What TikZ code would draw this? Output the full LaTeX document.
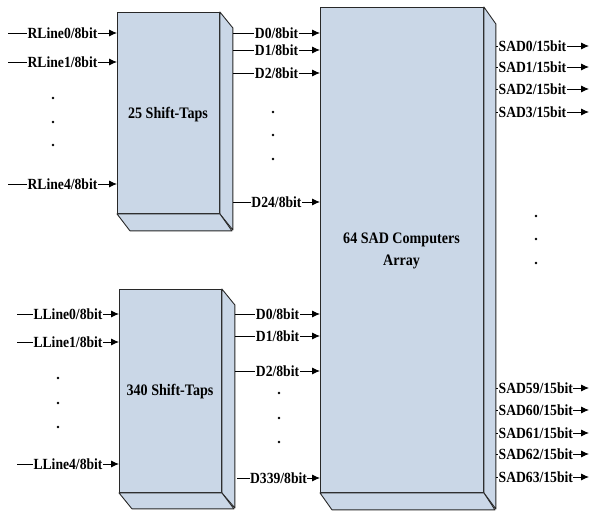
\documentclass[tikz,border=0pt]{standalone}
\usepackage{fontspec}
\setmainfont[FakeStretch=0.88]{Liberation Serif}
\usetikzlibrary{arrows.meta}
\definecolor{boxblue}{RGB}{202,215,231}
\definecolor{edge}{RGB}{40,40,40}
\tikzset{
  blockbox/.style={draw=edge, fill=boxblue, line width=0.9pt, rectangle, anchor=north west, inner sep=0pt},
  facefill/.style={draw=edge, fill=boxblue, line width=0.9pt, line join=round},
  boxtext/.style={font=\fontsize{16}{22}\selectfont\bfseries, align=center},
  arr/.style={line width=0.9pt, -{Latex[length=8pt,width=7pt]}},
  lab/.style={fill=white, inner xsep=0.5pt, inner ysep=0.5pt, font=\fontsize{15.5}{17}\selectfont\bfseries},
  dotmark/.style={fill=black, circle, inner sep=0pt, minimum size=2.6pt}
}
\begin{document}
\begin{tikzpicture}[x=1pt,y=-1pt]
\useasboundingbox (0,0) rectangle (590,513);

% ---- boxes ----
\node[blockbox, minimum width=102pt, minimum height=201pt] (tb) at (117,12) {};
\fill[facefill] (tb.north east) -- ++(13,16) -- ++(0,202) -- (tb.south east) -- cycle;
\fill[facefill] (tb.south west) -- ++(13,17) -- ++(102,0) -- (tb.south east) -- cycle;
\node[boxtext] (tbl) at (168,115) {25 Shift-Taps};

\node[blockbox, minimum width=102pt, minimum height=203pt] (bb) at (119,289) {};
\fill[facefill] (bb.north east) -- ++(13,16) -- ++(0,203) -- (bb.south east) -- cycle;
\fill[facefill] (bb.south west) -- ++(13,16) -- ++(102,0) -- (bb.south east) -- cycle;
\node[boxtext] (bbl) at (170,392) {340 Shift-Taps};

\node[blockbox, minimum width=163pt, minimum height=485pt] (sad) at (320,7) {};
\fill[facefill] (sad.north east) -- ++(12,17) -- ++(0,485) -- (sad.south east) -- cycle;
\fill[facefill] (sad.south west) -- ++(12,17) -- ++(163,0) -- (sad.south east) -- cycle;
\node[boxtext] (sadl) at (401.5,251) {64 SAD Computers\\Array};

% ---- top inputs ----
\coordinate (r0) at (8,33);
\coordinate (r1) at (8,62);
\coordinate (r4) at (8,184);
\draw[arr] (r0) -- node[lab]{RLine0/8bit} (r0 -| tb.west);
\draw[arr] (r1) -- node[lab]{RLine1/8bit} (r1 -| tb.west);
\draw[arr] (r4) -- node[lab]{RLine4/8bit} (r4 -| tb.west);
\node[dotmark] (rd1) at (53,98) {};
\node[dotmark] (rd2) at (53,122) {};
\node[dotmark] (rd3) at (53,145) {};

% ---- top outputs ----
\coordinate (ta0) at (233,33);
\coordinate (ta1) at (233,50);
\coordinate (ta2) at (233,73);
\coordinate (ta24) at (233,202);
\draw[arr] (ta0) -- node[lab]{D0/8bit} (ta0 -| sad.west);
\draw[arr] (ta1) -- node[lab]{D1/8bit} (ta1 -| sad.west);
\draw[arr] (ta2) -- node[lab]{D2/8bit} (ta2 -| sad.west);
\draw[arr] (ta24) -- node[lab]{D24/8bit} (ta24 -| sad.west);
\node[dotmark] (td1) at (273,112) {};
\node[dotmark] (td2) at (273,135) {};
\node[dotmark] (td3) at (273,159) {};

% ---- bottom inputs ----
\coordinate (l0) at (17,314);
\coordinate (l1) at (17,342);
\coordinate (l4) at (17,464);
\draw[arr] (l0) -- node[lab]{LLine0/8bit} (l0 -| bb.west);
\draw[arr] (l1) -- node[lab]{LLine1/8bit} (l1 -| bb.west);
\draw[arr] (l4) -- node[lab]{LLine4/8bit} (l4 -| bb.west);
\node[dotmark] (ld1) at (58,378) {};
\node[dotmark] (ld2) at (58,403) {};
\node[dotmark] (ld3) at (58,427) {};

% ---- bottom outputs ----
\coordinate (ba0) at (235,314);
\coordinate (ba1) at (235,336);
\coordinate (ba2) at (235,371);
\coordinate (ba339) at (237,478);
\draw[arr] (ba0) -- node[lab]{D0/8bit} (ba0 -| sad.west);
\draw[arr] (ba1) -- node[lab]{D1/8bit} (ba1 -| sad.west);
\draw[arr] (ba2) -- node[lab]{D2/8bit} (ba2 -| sad.west);
\draw[arr] (ba339) -- node[lab]{D339/8bit} (ba339 -| sad.west);
\node[dotmark] (bd1) at (279,393) {};
\node[dotmark] (bd2) at (279,418) {};
\node[dotmark] (bd3) at (279,442) {};

% ---- SAD outputs ----
\foreach \n/\y in {0/46,1/67,2/89,3/112,59/388,60/410,61/433,62/454,63/477}{
  \coordinate (s\n) at (496,\y);
  \coordinate (e\n) at (589,\y);
  \draw[arr] (s\n) -- (e\n);
  \node[lab, anchor=west] (t\n) at ([xshift=2pt]s\n) {SAD\n/15bit};
}
\node[dotmark] (sd1) at (536,216) {};
\node[dotmark] (sd2) at (536,239) {};
\node[dotmark] (sd3) at (536,263) {};
\end{tikzpicture}
\end{document}
